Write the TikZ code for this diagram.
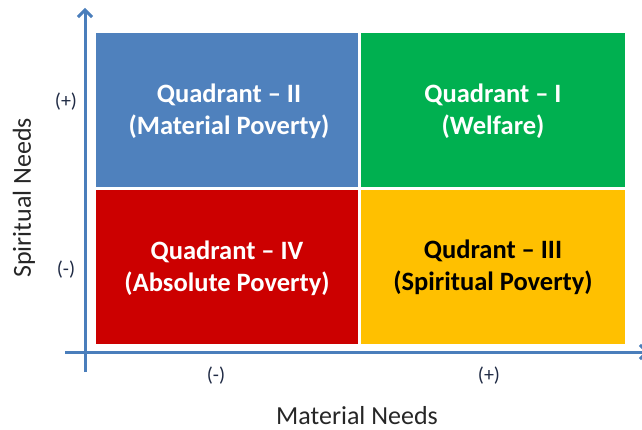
\documentclass[tikz,border=0pt]{standalone}
\usepackage{fontspec}
\setmainfont{Carlito}
\usetikzlibrary{arrows.meta}
\definecolor{qblue}{HTML}{4F81BD}
\definecolor{qgreen}{HTML}{00B050}
\definecolor{qred}{HTML}{CC0000}
\definecolor{qyellow}{HTML}{FFC000}
\definecolor{axisblue}{HTML}{4A7EBB}
\definecolor{signcol}{HTML}{1F2A44}
\tikzset{
  quad/.style={inner sep=0pt, outer sep=0pt, minimum width=262pt, minimum height=154pt, draw=none},
  qtext/.style={align=center, font=\fontsize{26.5}{32}\selectfont\bfseries},
  axisline/.style={draw=axisblue, line width=3pt},
  axislabel/.style={font=\fontsize{26}{30}\selectfont, text=black!85},
  signlabel/.style={font=\fontsize{20}{22}\selectfont, text=signcol},
}
\begin{document}
\begin{tikzpicture}[x=1pt,y=-1pt]
\useasboundingbox (0,0) rectangle (642,430);
% quadrants
\node[quad, fill=qblue, anchor=north west] (q2) at (96,33) {};
\node[quad, fill=qgreen, anchor=north west, minimum width=264pt] (q1) at (361,33) {};
\node[quad, fill=qred, anchor=north west] (q4) at (96,190) {};
\node[quad, fill=qyellow, anchor=north west, minimum width=264pt] (q3) at (361,190) {};
\node[qtext, text=white] (t2) at ([xshift=2pt,yshift=-1pt]q2.center) {Quadrant – II\\(Material Poverty)};
\node[qtext, text=white] (t1) at ([yshift=-1pt]q1.center) {Quadrant – I\\(Welfare)};
\node[qtext, text=white] (t4) at ([yshift=-1pt]q4.center) {Quadrant – IV\\(Absolute Poverty)};
\node[qtext, text=black] (t3) at ([yshift=0pt]q3.center) {Qudrant – III\\(Spiritual Poverty)};
% axes
\coordinate (vbot) at (85,372);
\coordinate (vtop) at (85,8);
\coordinate (hleft) at (65,352);
\coordinate (hright) at (649,352);
\draw[axisline, -{Straight Barb[length=7pt,width=14pt,line width=3pt]}] (vbot) -- (vtop);
\draw[axisline, -{Straight Barb[length=7pt,width=14pt,line width=3pt]}] (hleft) -- (hright);
% labels
\node[axislabel, rotate=90] (ylab) at (24,198) {Spiritual Needs};
\node[axislabel] (xlab) at (357,416) {Material Needs};
\node[signlabel] (yp) at (66,102) {(+)};
\node[signlabel] (ym) at (66,270) {(-)};
\node[signlabel] (xm) at (216,376) {(-)};
\node[signlabel] (xp) at (489,376) {(+)};
\end{tikzpicture}
\end{document}
